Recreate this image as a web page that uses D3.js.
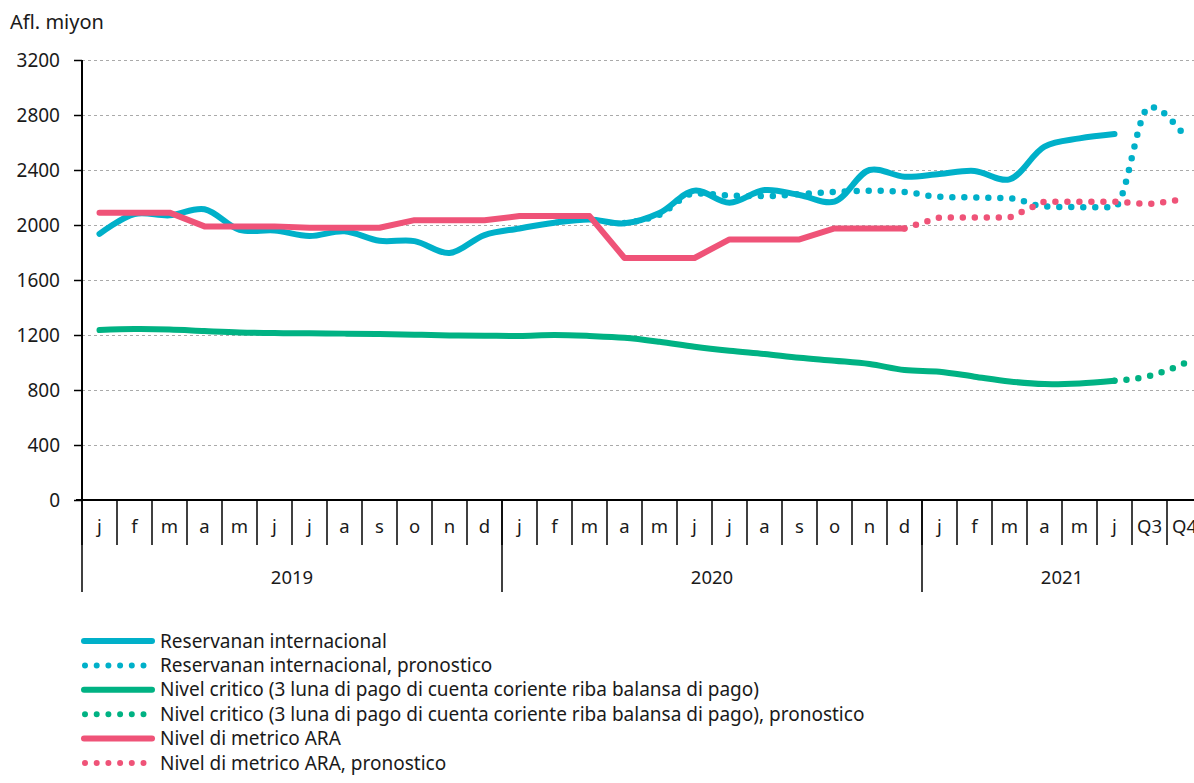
<!DOCTYPE html>
<html>
<head>
<meta charset="utf-8">
<title>Reservanan internacional</title>
<script src="https://d3js.org/d3.v7.min.js"></script>
<style>
body { margin: 0; background: #fff; font-family: "Noto Sans", sans-serif; }
svg { display: block; }
.grid line { stroke: #aaa; stroke-dasharray: 3,3; }
text { fill: #1a1a1a; }
</style>
</head>
<body>
<script>
// category labels
var years = ["2019", "2020", "2021"];
var yearCounts = [12, 12, 8];
var months = ["j","f","m","a","m","j","j","a","s","o","n","d"];
var labels = months.concat(months, ["j","f","m","a","m","j","Q3","Q4"]);

// series values (Afl. miyon), one per category, null = no value
var reserves = [1935,2080,2070,2115,1965,1960,1920,1955,1885,1883,1796,1927,
                1975,2017,2040,2012,2087,2250,2162,2254,2218,2170,2400,2351,
                2371,2393,2332,2570,2630,2662,null,null];
var reservesFc = [null,null,null,null,null,null,null,null,null,null,null,null,
                  null,null,null,2014,2075,2230,2215,2210,2225,2240,2250,2240,
                  2205,2200,2195,2135,2130,2130,2860,2650];
var critical = [1236,1243,1240,1229,1219,1214,1212,1210,1207,1202,1197,1195,
                1193,1200,1193,1180,1151,1115,1086,1062,1035,1013,989,945,
                933,897,862,843,848,868,null,null];
var criticalFc = [null,null,null,null,null,null,null,null,null,null,null,null,
                  null,null,null,null,null,null,null,null,null,null,null,null,
                  null,null,null,null,null,868,902,994];
var ara = [2090,2090,2090,1990,1990,1990,1980,1980,1980,2035,2035,2035,
           2065,2065,2065,1760,1760,1760,1895,1895,1895,1975,1975,1975,
           null,null,null,null,null,null,null,null];
var araFc = [null,null,null,null,null,null,null,null,null,null,null,null,
             null,null,null,null,null,null,null,null,null,null,null,1975,
             2055,2055,2055,2170,2170,2170,2152,2188];

var yTicks = [0,400,800,1200,1600,2000,2400,2800,3200];

var smooth = d3.curveCatmullRom.alpha(0.5);
var series = [
  {name: "Reservanan internacional", values: reserves, color: "#00b0c9", dotted: false, curve: smooth},
  {name: "Reservanan internacional, pronostico", values: reservesFc, color: "#00b0c9", dotted: true, curve: d3.curveMonotoneX},
  {name: "Nivel critico (3 luna di pago di cuenta coriente riba balansa di pago)", values: critical, color: "#00b283", dotted: false, curve: smooth},
  {name: "Nivel critico (3 luna di pago di cuenta coriente riba balansa di pago), pronostico", values: criticalFc, color: "#00b283", dotted: true, curve: d3.curveMonotoneX},
  {name: "Nivel di metrico ARA", values: ara, color: "#ef5378", dotted: false, curve: d3.curveLinear},
  {name: "Nivel di metrico ARA, pronostico", values: araFc, color: "#ef5378", dotted: true, curve: d3.curveLinear}
];

var W = 1194, H = 783;
var mLeft = 82, mTop = 60, mBottom = 500;
var band = 35;
var fs = "18.5px";

var svg = d3.select("body").append("svg")
    .attr("width", W)
    .attr("height", H);

var x = d3.scaleBand()
    .domain(d3.range(labels.length))
    .range([mLeft, mLeft + band * labels.length]);

var y = d3.scaleLinear()
    .domain([0, 3200])
    .range([mBottom, mTop]);

// gridlines
svg.append("g")
    .attr("class", "grid")
  .selectAll("line")
    .data(yTicks.filter(function(d) { return d > 0; }))
  .enter().append("line")
    .attr("x1", mLeft)
    .attr("x2", W)
    .attr("y1", function(d) { return y(d) + 0.5; })
    .attr("y2", function(d) { return y(d) + 0.5; });

// y axis
var yAxis = svg.append("g")
    .attr("transform", "translate(" + mLeft + ",0)")
    .call(d3.axisLeft(y).tickValues(yTicks).tickSize(8).tickPadding(14).tickFormat(d3.format("d")));
yAxis.select(".domain").attr("stroke", "#000").attr("stroke-width", 2).attr("d", "M0," + mTop + "V" + mBottom);
yAxis.selectAll(".tick line").attr("stroke", "#000").attr("stroke-width", 1.5);
yAxis.selectAll("text").style("font-size", "19px").style("font-family", "Noto Sans").attr("fill", "#1a1a1a");

svg.append("text")
    .attr("x", 10)
    .attr("y", 29)
    .style("font-size", "20px")
    .text("Afl. miyon");

// x axis
svg.append("line")
    .attr("x1", mLeft - 6).attr("x2", W)
    .attr("y1", mBottom).attr("y2", mBottom)
    .attr("stroke", "#000").attr("stroke-width", 2);

svg.append("g").selectAll("line")
    .data(d3.range(labels.length + 1))
  .enter().append("line")
    .attr("x1", function(i) { return mLeft + i * band; })
    .attr("x2", function(i) { return mLeft + i * band; })
    .attr("y1", mBottom)
    .attr("y2", mBottom + 45)
    .attr("stroke", "#000").attr("stroke-width", 1.5);

svg.append("g").selectAll("text")
    .data(labels)
  .enter().append("text")
    .attr("x", function(d, i) { return x(i) + x.bandwidth() / 2; })
    .attr("y", mBottom + 33)
    .attr("text-anchor", "middle")
    .style("font-size", fs)
    .text(function(d) { return d; });

var yearStart = [0];
yearCounts.forEach(function(c, i) { yearStart.push(yearStart[i] + c); });

svg.append("g").selectAll("line")
    .data(yearStart)
  .enter().append("line")
    .attr("x1", function(i) { return mLeft + i * band; })
    .attr("x2", function(i) { return mLeft + i * band; })
    .attr("y1", mBottom)
    .attr("y2", mBottom + 92)
    .attr("stroke", "#000").attr("stroke-width", 1.5);

svg.append("g").selectAll("text")
    .data(years)
  .enter().append("text")
    .attr("x", function(d, i) { return mLeft + (yearStart[i] + yearCounts[i] / 2) * band; })
    .attr("y", mBottom + 84)
    .attr("text-anchor", "middle")
    .style("font-size", fs)
    .text(function(d) { return d; });

// lines
series.forEach(function(s) {
  var line = d3.line()
      .defined(function(d) { return d != null; })
      .x(function(d, i) { return x(i) + x.bandwidth() / 2; })
      .y(function(d) { return y(d); })
      .curve(s.curve);
  svg.append("path")
      .datum(s.values)
      .attr("fill", "none")
      .attr("stroke", s.color)
      .attr("stroke-width", s.dotted ? 6.5 : 6)
      .attr("stroke-linecap", "round")
      .attr("stroke-linejoin", "round")
      .attr("stroke-dasharray", s.dotted ? "0,12" : null)
      .attr("d", line);
});

// legend
var legend = svg.selectAll(".legend")
    .data(series)
  .enter().append("g")
    .attr("class", "legend")
    .attr("transform", function(d, i) { return "translate(0," + (641 + i * 24.4) + ")"; });

legend.append("line")
    .attr("x1", function(d) { return d.dotted ? 85 : 84; })
    .attr("x2", function(d) { return d.dotted ? 145 : 152; })
    .attr("stroke", function(d) { return d.color; })
    .attr("stroke-width", 6)
    .attr("stroke-linecap", "round")
    .attr("stroke-dasharray", function(d) { return d.dotted ? "0,11.7" : null; });

legend.append("text")
    .attr("x", 160)
    .attr("dy", "0.35em")
    .style("font-size", "19px")
    .text(function(d) { return d.name; });
</script>
</body>
</html>
